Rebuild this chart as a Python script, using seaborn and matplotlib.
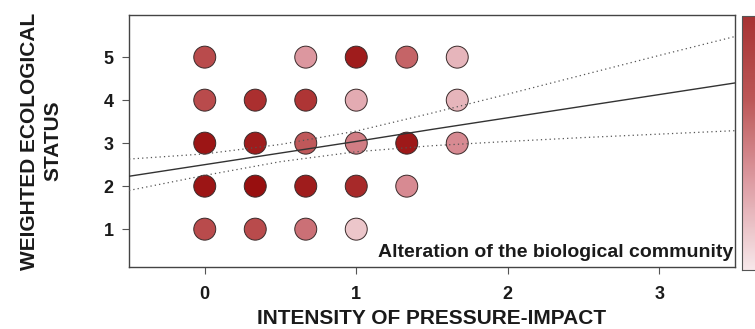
import numpy as np
import pandas as pd
import matplotlib
matplotlib.use("Agg")
import matplotlib.pyplot as plt
from matplotlib.colors import LinearSegmentedColormap, Normalize
from matplotlib.cm import ScalarMappable
import seaborn as sns

# Grid of sites: pressure-impact intensity vs weighted ecological status,
# shaded by the share of sites in each cell
intensity = [0, 2/3, 1, 4/3, 5/3,
             0, 1/3, 2/3, 1, 5/3,
             0, 1/3, 2/3, 1, 4/3, 5/3,
             0, 1/3, 2/3, 1, 4/3,
             0, 1/3, 2/3, 1]
status = [5, 5, 5, 5, 5,
          4, 4, 4, 4, 4,
          3, 3, 3, 3, 3, 3,
          2, 2, 2, 2, 2,
          1, 1, 1, 1]
share = [0.60, 0.30, 0.90, 0.50, 0.18,
         0.60, 0.75, 0.70, 0.22, 0.18,
         0.95, 0.90, 0.55, 0.40, 0.92, 0.35,
         0.95, 1.00, 0.90, 0.80, 0.35,
         0.60, 0.60, 0.45, 0.12]

# Fitted regression line and its confidence band
band_x = [-0.5, 0.0, 0.5, 1.0, 1.5, 2.0, 2.5, 3.0, 3.5]
fit_y = [2.23, 2.50, 2.77, 3.04, 3.32, 3.59, 3.86, 4.13, 4.40]
upper_y = [2.63, 2.75, 2.97, 3.28, 3.70, 4.14, 4.59, 5.04, 5.48]
lower_y = [1.90, 2.25, 2.57, 2.80, 2.94, 3.04, 3.13, 3.21, 3.29]

x_ticks = [0, 1, 2, 3]
y_ticks = [1, 2, 3, 4, 5]

sns.set_style("white")
plt.rcParams["font.family"] = ["Liberation Sans", "DejaVu Sans"]
plt.rcParams["font.weight"] = "bold"

cmap = LinearSegmentedColormap.from_list("reds", ["#f6e4e7", "#d98e96", "#b13a3a", "#980f0f"])
norm = Normalize(0, 1)

fig = plt.figure(figsize=(7.55, 3.29), dpi=100)
ax = fig.add_axes([129 / 755, 1 - 267 / 329, (735 - 129) / 755, (267 - 15) / 329])

pts = pd.DataFrame({"intensity": intensity, "status": status, "share": share})
sns.scatterplot(data=pts, x="intensity", y="status", hue="share", hue_norm=norm,
                palette=cmap, s=250, edgecolor="#3a2a2a", linewidth=0.7,
                legend=False, ax=ax, zorder=3)

lines = pd.DataFrame({"x": band_x, "fit": fit_y, "up": upper_y, "lo": lower_y})
sns.lineplot(data=lines, x="x", y="fit", color="#333333", linewidth=1.0, ax=ax, zorder=4)
for col in ("up", "lo"):
    sns.lineplot(data=lines, x="x", y=col, color="#555555", linewidth=0.9,
                 linestyle=(0, (1, 2.5)), ax=ax, zorder=4)

ax.set_xlim(-0.5, 3.5)
ax.set_ylim(0.12, 5.98)
ax.set_xticks(x_ticks)
ax.set_yticks(y_ticks)
ax.tick_params(axis="both", which="both", length=5, width=0.8, color="#555555",
               labelsize=13, pad=6, bottom=True, left=True)
for lab in ax.get_xticklabels() + ax.get_yticklabels():
    lab.set_fontweight("bold")
    lab.set_color("#1a1a1a")
ax.xaxis.set_tick_params(pad=9)
for sp in ax.spines.values():
    sp.set_color("#444444")
    sp.set_linewidth(1.0)

ax.set_xlabel("INTENSITY OF PRESSURE-IMPACT", fontsize=15, fontweight="bold",
              color="#1a1a1a", labelpad=4)
ax.set_ylabel("WEIGHTED ECOLOGICAL\nSTATUS", fontsize=15, fontweight="bold",
              color="#1a1a1a", labelpad=30, linespacing=1.25)

ax.text(0.997, 0.025, "Alteration of the biological community", transform=ax.transAxes,
        ha="right", va="bottom", fontsize=14, fontweight="bold", color="#1a1a1a")

cax = fig.add_axes([742 / 755, 1 - 270 / 329, 0.05, (270 - 16) / 329])
cb = fig.colorbar(ScalarMappable(norm=norm, cmap=cmap), cax=cax)
cb.solids.set_alpha(0.85)
cb.outline.set_edgecolor("#555555")
cax.set_yticks([])

fig.savefig("out.png", dpi=100)
